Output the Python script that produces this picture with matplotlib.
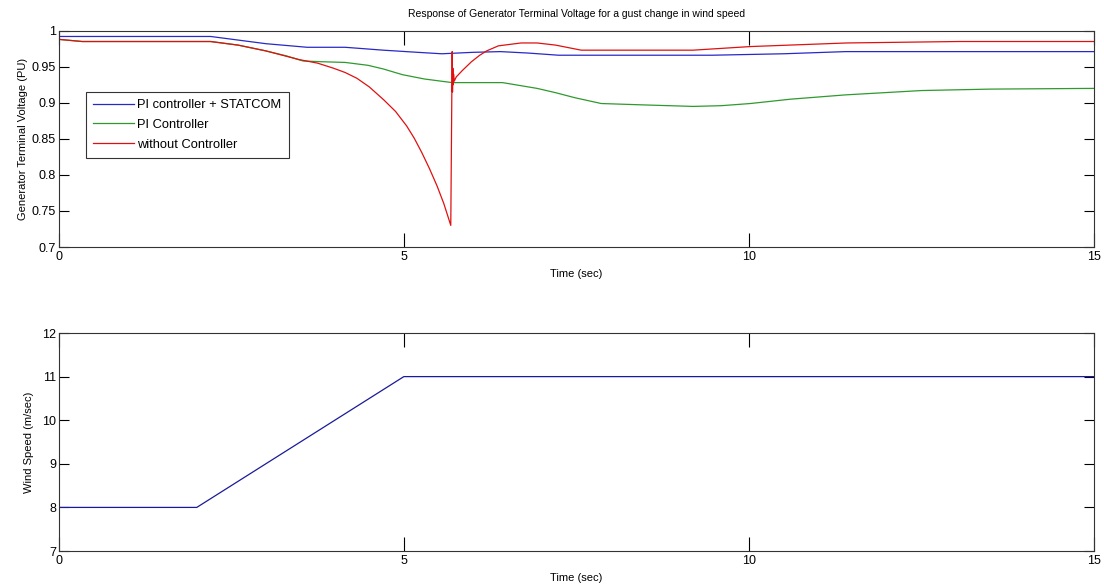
import numpy as np
import matplotlib
matplotlib.use("Agg")
import matplotlib.pyplot as plt

plt.rcParams['font.family'] = ['Liberation Sans', 'DejaVu Sans']

# Terminal voltage (PU)
t_statcom = [0, 2.2, 2.6, 3.0, 3.6, 4.15, 4.7, 5.2, 5.55, 6.0, 6.4, 6.8, 7.24, 8.0, 9.47, 10.5, 11.4, 15]
v_statcom = [0.992, 0.992, 0.987, 0.982, 0.977, 0.977, 0.973, 0.970, 0.968, 0.970, 0.971, 0.969, 0.966, 0.966, 0.966, 0.968, 0.971, 0.971]

t_pi = [0, 0.34, 2.2, 2.6, 3.0, 3.3, 3.54, 3.8, 4.15, 4.48, 4.7, 4.98, 5.3, 5.7, 6.43, 6.93, 7.2, 7.48, 7.86, 8.5, 9.19, 9.6, 10.02, 10.6, 11.4, 12.5, 13.5, 15.0]
v_pi = [0.988, 0.985, 0.985, 0.980, 0.972, 0.965, 0.958, 0.957, 0.956, 0.952, 0.947, 0.939, 0.933, 0.928, 0.928, 0.920, 0.914, 0.907, 0.899, 0.897, 0.895, 0.896, 0.899, 0.905, 0.911, 0.917, 0.919, 0.920]

t_none = [0, 0.34, 2.2, 2.6, 3.0, 3.48, 3.75, 3.98, 4.15, 4.32, 4.5, 4.71, 4.88, 5.04, 5.15, 5.26, 5.37, 5.48, 5.58, 5.68,
          5.70, 5.705, 5.71, 5.715, 5.72, 5.73, 5.76, 5.85, 5.98, 6.1, 6.2, 6.37, 6.7, 6.93, 7.2, 7.57, 8.5, 9.19, 10.02, 11.42, 13.04, 15.0]
v_none = [0.988, 0.985, 0.985, 0.980, 0.972, 0.960, 0.955, 0.948, 0.942, 0.934, 0.922, 0.904, 0.888, 0.868, 0.851, 0.831, 0.809, 0.785, 0.760, 0.730,
          0.971, 0.915, 0.948, 0.925, 0.940, 0.930, 0.936, 0.945, 0.957, 0.966, 0.972, 0.979, 0.983, 0.983, 0.980, 0.973, 0.973, 0.973, 0.978, 0.983, 0.985, 0.985]

# Wind speed (m/sec)
t_wind = [0, 2.0, 5.0, 15.0]
wind = [8, 8, 11, 11]

fig = plt.figure(figsize=(11.04, 5.87), dpi=100)
ax1 = fig.add_axes([0.0532, 0.5792, 0.9378, 0.3685])
ax2 = fig.add_axes([0.0532, 0.0613, 0.9378, 0.3714])

ax1.plot(t_statcom, v_statcom, color='#2828c8', lw=0.9, label='PI controller + STATCOM')
ax1.plot(t_pi, v_pi, color='#2e9a2e', lw=0.9, label='PI Controller')
ax1.plot(t_none, v_none, color='#e01010', lw=0.9, label='without Controller')
ax1.set_xlim(0, 15)
ax1.set_ylim(0.7, 1.0)
ax1.set_yticks([0.7, 0.75, 0.8, 0.85, 0.9, 0.95, 1.0])
ax1.set_yticklabels(['0.7', '0.75', '0.8', '0.85', '0.9', '0.95', '1'])
ax1.set_xticks([0, 5, 10, 15])
ax1.set_xlabel('Time (sec)', fontsize=8, labelpad=4)
ax1.set_ylabel('Generator Terminal Voltage (PU)', fontsize=8, labelpad=3)
ax1.set_title('Response of Generator Terminal Voltage for a gust change in wind speed', fontsize=7.5, pad=10)
leg = ax1.legend(loc='upper left', bbox_to_anchor=(0.026, 0.717), fontsize=9.3,
                 frameon=True, fancybox=False, handlelength=3.2, handletextpad=0.25,
                 borderpad=0.55, labelspacing=0.6, borderaxespad=0)
leg.get_frame().set_edgecolor('black')
leg.get_frame().set_linewidth(0.8)

ax2.plot(t_wind, wind, color='#1a1a9a', lw=0.9)
ax2.set_xlim(0, 15)
ax2.set_ylim(7, 12)
ax2.set_xticks([0, 5, 10, 15])
ax2.set_yticks([7, 8, 9, 10, 11, 12])
ax2.set_xlabel('Time (sec)', fontsize=8, labelpad=4)
ax2.set_ylabel('Wind Speed (m/sec)', fontsize=8, labelpad=6)

for ax in (ax1, ax2):
    ax.tick_params(direction='in', top=True, right=True, labelsize=9)
    ax.tick_params(axis='x', length=10, width=0.8, pad=3)
    ax.tick_params(axis='y', length=7, width=0.8, pad=2)
    for s in ax.spines.values():
        s.set_linewidth(0.8)
        s.set_color('#333333')

fig.savefig('out.png', dpi=100)
